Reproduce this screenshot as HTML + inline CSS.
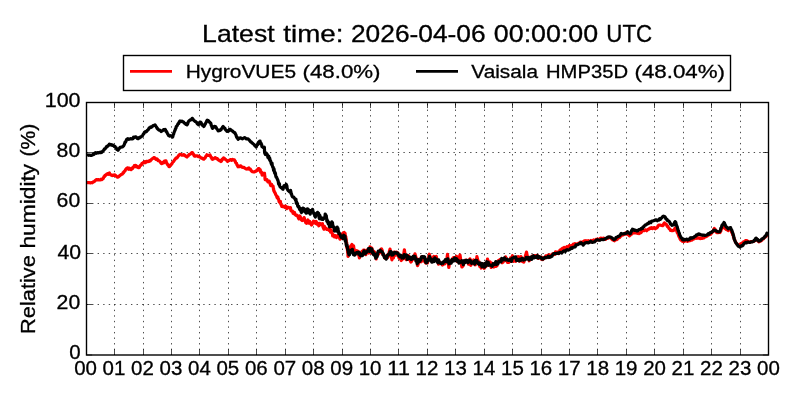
<!DOCTYPE html>
<html lang="en">
<head>
<meta charset="utf-8">
<title>Relative humidity</title>
<style>
html,body{margin:0;padding:0;background:#fff;}
body{width:800px;height:400px;overflow:hidden;font-family:"Liberation Sans",sans-serif;}
svg{display:block;will-change:transform;}
text{font-family:"Liberation Sans",sans-serif;fill:#000;stroke:#000;stroke-width:0.3px;}
.grid line{stroke:#000;stroke-width:0.7;stroke-dasharray:1.39 4.17;}
.tick line{stroke:#000;stroke-width:0.7;}
</style>
</head>
<body>
<svg width="800" height="400" viewBox="0 0 800 400">
<rect x="0" y="0" width="800" height="400" fill="#ffffff"/>
<text font-size="23.2" xml:space="preserve"><tspan x="202.10" y="41.8" textLength="72.49" lengthAdjust="spacingAndGlyphs">Latest</tspan> <tspan x="283.30" y="41.8" textLength="60.09" lengthAdjust="spacingAndGlyphs">time:</tspan> <tspan x="350.98" y="41.8" textLength="134.70" lengthAdjust="spacingAndGlyphs">2026-04-06</tspan> <tspan x="493.84" y="41.8" textLength="104.33" lengthAdjust="spacingAndGlyphs">00:00:00</tspan> <tspan x="606.32" y="41.8" textLength="45.80" lengthAdjust="spacingAndGlyphs">UTC</tspan></text>
<g class="grid">
<line x1="114.50" y1="355.0" x2="114.50" y2="102.5" stroke-dashoffset="0.6"/>
<line x1="143.50" y1="355.0" x2="143.50" y2="102.5" stroke-dashoffset="0.6"/>
<line x1="171.50" y1="355.0" x2="171.50" y2="102.5" stroke-dashoffset="0.6"/>
<line x1="199.50" y1="355.0" x2="199.50" y2="102.5" stroke-dashoffset="0.6"/>
<line x1="228.50" y1="355.0" x2="228.50" y2="102.5" stroke-dashoffset="0.6"/>
<line x1="256.50" y1="355.0" x2="256.50" y2="102.5" stroke-dashoffset="0.6"/>
<line x1="285.50" y1="355.0" x2="285.50" y2="102.5" stroke-dashoffset="0.6"/>
<line x1="313.50" y1="355.0" x2="313.50" y2="102.5" stroke-dashoffset="0.6"/>
<line x1="342.50" y1="355.0" x2="342.50" y2="102.5" stroke-dashoffset="0.6"/>
<line x1="370.50" y1="355.0" x2="370.50" y2="102.5" stroke-dashoffset="0.6"/>
<line x1="398.50" y1="355.0" x2="398.50" y2="102.5" stroke-dashoffset="0.6"/>
<line x1="427.50" y1="355.0" x2="427.50" y2="102.5" stroke-dashoffset="0.6"/>
<line x1="455.50" y1="355.0" x2="455.50" y2="102.5" stroke-dashoffset="0.6"/>
<line x1="484.50" y1="355.0" x2="484.50" y2="102.5" stroke-dashoffset="0.6"/>
<line x1="512.50" y1="355.0" x2="512.50" y2="102.5" stroke-dashoffset="0.6"/>
<line x1="541.50" y1="355.0" x2="541.50" y2="102.5" stroke-dashoffset="0.6"/>
<line x1="569.50" y1="355.0" x2="569.50" y2="102.5" stroke-dashoffset="0.6"/>
<line x1="597.50" y1="355.0" x2="597.50" y2="102.5" stroke-dashoffset="0.6"/>
<line x1="626.50" y1="355.0" x2="626.50" y2="102.5" stroke-dashoffset="0.6"/>
<line x1="654.50" y1="355.0" x2="654.50" y2="102.5" stroke-dashoffset="0.6"/>
<line x1="683.50" y1="355.0" x2="683.50" y2="102.5" stroke-dashoffset="0.6"/>
<line x1="711.50" y1="355.0" x2="711.50" y2="102.5" stroke-dashoffset="0.6"/>
<line x1="740.50" y1="355.0" x2="740.50" y2="102.5" stroke-dashoffset="0.6"/>
<line x1="86.5" y1="304.50" x2="768.5" y2="304.50"/>
<line x1="86.5" y1="253.50" x2="768.5" y2="253.50"/>
<line x1="86.5" y1="203.50" x2="768.5" y2="203.50"/>
<line x1="86.5" y1="152.50" x2="768.5" y2="152.50"/>
</g>
<clipPath id="ax"><rect x="86.5" y="102.5" width="682.0" height="252.5"/></clipPath>
<g clip-path="url(#ax)" fill="none" stroke-width="3.2" stroke-linejoin="round" stroke-linecap="butt">
<path stroke="#ff0000" d="M86.9,182.5 L87.8,182.6 L88.7,182.7 L89.6,182.7 L90.4,182.9 L91.3,182.6 L92.2,182.8 L93.1,182.0 L93.7,181.6 L94.3,181.7 L95.0,180.7 L95.6,180.2 L96.5,179.5 L97.4,179.9 L98.3,179.6 L99.2,179.9 L100.1,179.9 L101.0,179.2 L101.9,179.6 L102.4,178.8 L102.9,178.9 L103.5,178.0 L104.0,176.6 L104.5,176.6 L105.0,175.4 L105.7,175.3 L106.5,174.3 L107.2,173.8 L107.9,174.4 L108.7,173.2 L109.4,173.0 L110.0,174.3 L110.6,174.8 L111.2,174.9 L112.1,175.6 L113.0,175.1 L113.9,175.4 L114.7,174.8 L115.6,175.5 L116.2,176.0 L116.8,176.8 L117.5,177.2 L118.1,177.2 L118.8,176.5 L119.6,175.8 L120.3,175.2 L121.0,174.6 L121.8,174.3 L122.5,174.0 L123.0,172.7 L123.5,172.9 L124.0,171.8 L124.5,171.1 L124.9,171.1 L125.4,170.0 L125.9,169.2 L126.4,168.7 L126.9,168.2 L127.8,167.8 L128.6,169.2 L129.5,168.3 L130.4,169.4 L131.2,169.6 L131.9,168.2 L132.5,168.5 L133.1,167.3 L133.8,167.0 L134.4,165.6 L135.0,165.4 L135.8,165.6 L136.5,166.9 L137.2,166.4 L138.0,167.4 L138.8,167.7 L139.3,167.4 L139.8,166.1 L140.4,165.5 L140.9,165.0 L141.5,164.7 L142.0,163.3 L142.6,163.4 L143.1,162.6 L143.9,162.8 L144.7,161.6 L145.5,162.5 L146.3,161.3 L147.1,161.4 L147.9,161.6 L148.8,161.5 L149.5,160.6 L150.2,160.9 L150.9,160.0 L151.6,159.3 L152.3,158.8 L153.0,158.2 L153.7,157.7 L154.4,157.6 L155.1,158.5 L155.8,159.3 L156.6,158.8 L157.3,159.1 L158.0,160.7 L158.8,160.6 L159.4,161.1 L160.0,161.5 L160.6,162.6 L161.3,163.5 L161.9,163.7 L162.5,163.1 L163.1,162.2 L163.8,162.7 L164.4,161.1 L165.0,161.1 L165.6,160.8 L166.0,160.9 L166.4,162.5 L166.9,163.5 L167.3,163.9 L167.7,164.9 L168.2,164.9 L168.6,166.0 L169.0,166.7 L169.5,166.7 L170.0,165.4 L170.5,165.0 L171.0,165.0 L171.5,164.2 L172.0,163.7 L172.5,162.5 L173.0,161.9 L173.5,161.5 L174.1,160.6 L174.6,159.7 L175.1,159.3 L175.6,158.6 L176.2,157.9 L176.9,158.0 L177.5,157.3 L178.1,156.2 L178.8,155.4 L179.4,154.7 L180.2,154.3 L181.1,154.5 L181.9,155.1 L182.7,155.2 L183.6,154.6 L184.4,154.9 L185.0,155.6 L185.7,156.1 L186.3,156.6 L186.9,157.0 L187.5,156.1 L188.2,155.9 L188.8,154.8 L189.4,154.4 L190.2,154.2 L190.9,153.7 L191.7,152.7 L192.5,152.7 L192.9,153.4 L193.3,154.1 L193.6,154.2 L194.0,155.6 L194.4,156.1 L195.2,156.2 L196.1,155.8 L196.9,155.8 L197.7,156.1 L198.4,156.6 L199.2,156.4 L200.0,157.0 L200.8,157.6 L201.5,158.1 L202.2,158.0 L203.0,159.0 L203.8,159.2 L204.3,158.6 L204.8,158.2 L205.3,157.5 L205.8,156.4 L206.4,155.7 L206.9,154.8 L207.9,155.4 L209.0,155.5 L210.0,155.0 L210.4,156.0 L210.8,156.7 L211.2,157.5 L211.7,157.5 L212.1,159.0 L212.5,159.4 L213.2,159.1 L213.9,158.4 L214.6,158.1 L215.2,157.6 L216.0,158.2 L216.7,158.9 L217.4,158.6 L218.1,159.6 L218.8,160.1 L219.6,160.8 L220.3,160.7 L221.0,161.6 L221.5,161.0 L222.0,159.6 L222.5,159.4 L223.0,158.5 L223.5,157.9 L224.2,158.2 L224.8,159.0 L225.5,159.4 L226.2,160.0 L226.8,160.4 L227.5,161.5 L228.3,160.8 L229.2,160.5 L230.0,159.8 L230.9,159.5 L231.8,160.3 L232.6,159.3 L233.5,159.8 L234.4,159.9 L234.8,160.7 L235.2,161.1 L235.6,162.7 L236.0,162.9 L236.5,163.3 L236.9,164.7 L237.3,164.9 L237.7,166.2 L238.1,166.8 L238.8,166.6 L239.5,166.6 L240.2,165.8 L241.0,166.1 L241.8,167.1 L242.5,167.3 L243.2,167.4 L244.0,167.4 L244.8,168.3 L245.5,168.5 L246.2,169.0 L247.1,169.1 L247.9,168.4 L248.8,168.0 L249.4,169.2 L250.0,168.8 L250.6,169.5 L251.2,170.7 L251.9,171.4 L252.5,171.7 L253.4,171.9 L254.4,172.0 L255.3,171.3 L256.2,171.2 L256.8,170.2 L257.4,169.6 L257.9,170.3 L258.4,168.5 L259.0,168.5 L259.4,169.8 L259.8,169.8 L260.2,169.6 L260.6,172.2 L260.9,171.6 L261.3,172.1 L261.7,172.6 L262.1,175.1 L262.5,174.5 L263.4,173.4 L264.4,173.5 L264.5,173.3 L264.7,175.6 L264.8,175.9 L264.9,176.3 L265.0,178.6 L265.2,179.6 L265.3,179.0 L266.2,180.0 L267.0,179.6 L267.9,181.8 L268.8,181.3 L269.2,181.2 L269.6,182.2 L270.0,183.4 L270.8,185.7 L271.6,184.4 L272.3,185.9 L273.1,186.2 L273.2,187.5 L273.4,188.3 L273.5,189.5 L273.6,188.7 L273.8,190.9 L274.1,190.8 L274.5,192.3 L274.9,192.5 L275.3,193.2 L275.7,194.6 L276.1,195.2 L276.5,195.7 L276.9,197.2 L277.3,197.9 L277.8,197.0 L278.2,198.3 L278.7,199.6 L279.1,201.6 L279.6,202.3 L280.0,202.0 L280.4,201.4 L280.8,204.4 L281.1,204.3 L281.5,205.6 L281.9,206.5 L282.8,206.6 L283.8,206.2 L284.7,207.4 L285.6,206.1 L286.2,206.9 L286.9,208.5 L287.9,207.2 L289.0,207.5 L290.0,208.4 L290.5,207.6 L290.9,210.6 L291.4,211.0 L291.9,211.2 L292.5,211.2 L293.1,213.4 L293.8,213.7 L294.4,212.4 L295.0,214.1 L295.6,215.0 L296.2,215.4 L296.9,215.2 L297.5,215.9 L298.2,217.4 L299.0,218.9 L299.8,216.0 L300.5,217.3 L301.2,219.6 L302.2,220.6 L303.1,220.3 L304.1,217.6 L305.0,220.4 L305.8,222.7 L306.5,223.3 L307.2,222.4 L308.0,219.9 L308.8,223.1 L309.7,221.4 L310.6,223.5 L311.6,225.0 L312.5,223.5 L313.5,221.2 L314.6,221.7 L315.6,223.3 L316.2,221.5 L316.9,224.2 L317.5,224.0 L318.1,223.4 L318.8,225.8 L319.5,223.4 L320.3,223.5 L321.1,224.6 L321.9,224.2 L322.4,223.6 L322.9,226.6 L323.4,228.0 L324.0,229.2 L324.5,226.4 L325.0,228.6 L325.9,228.1 L326.9,229.5 L327.8,229.2 L328.8,230.2 L329.4,229.4 L330.0,228.6 L330.6,232.2 L331.3,230.3 L331.9,232.7 L332.3,233.3 L332.7,235.9 L333.1,235.0 L333.6,236.0 L334.0,235.1 L334.4,237.0 L335.4,235.6 L336.5,237.6 L337.5,236.3 L338.1,235.2 L338.8,236.3 L339.4,237.5 L340.0,239.2 L340.5,236.5 L341.0,238.2 L341.5,237.2 L342.0,233.8 L342.5,235.3 L343.3,232.7 L344.2,232.4 L345.0,233.9 L345.1,233.4 L345.3,237.2 L345.4,236.2 L345.6,236.3 L345.7,239.3 L345.8,236.6 L346.0,240.6 L346.1,238.4 L346.2,240.6 L346.4,244.1 L346.5,243.7 L346.6,242.4 L346.7,242.7 L346.8,247.4 L346.9,246.8 L347.0,248.3 L347.1,246.0 L347.2,249.0 L347.3,248.6 L347.4,248.8 L347.5,250.1 L347.6,252.1 L347.7,251.7 L347.8,252.7 L347.9,252.4 L348.0,256.3 L348.1,255.9 L348.3,256.1 L348.6,253.7 L348.8,254.7 L349.1,252.4 L349.3,251.9 L349.5,251.0 L349.8,250.9 L350.0,248.8 L350.5,246.6 L351.0,245.7 L351.5,245.7 L352.0,244.4 L352.5,246.2 L352.9,246.3 L353.2,248.2 L353.6,245.9 L353.9,248.6 L354.3,251.0 L354.6,250.7 L355.0,250.9 L356.0,252.2 L356.8,250.7 L357.5,254.1 L358.2,251.3 L359.4,257.9 L360.5,253.1 L361.2,255.0 L362.0,251.3 L362.8,252.7 L363.5,250.1 L364.2,250.2 L365.0,252.2 L365.8,254.7 L366.5,250.4 L367.2,250.6 L368.0,252.1 L368.8,253.1 L370.0,246.8 L371.0,252.8 L371.8,248.0 L372.5,253.6 L373.2,251.1 L374.0,251.4 L374.8,252.4 L375.5,254.8 L376.2,259.0 L377.0,253.9 L377.8,254.9 L378.5,254.0 L379.2,251.7 L380.0,252.5 L380.8,249.3 L381.5,249.0 L382.2,250.5 L383.0,255.1 L383.8,255.4 L384.5,255.7 L385.2,258.3 L386.0,257.5 L386.8,255.7 L387.5,257.7 L388.2,256.2 L389.0,252.8 L390.0,249.1 L391.9,259.8 L392.8,253.6 L393.5,257.8 L394.2,252.0 L395.0,253.3 L395.8,255.0 L396.5,252.1 L397.2,254.9 L398.0,252.9 L398.8,257.5 L399.5,258.5 L400.2,257.8 L401.2,260.5 L402.5,259.1 L403.2,258.1 L404.4,249.8 L405.5,258.7 L406.2,259.7 L407.0,257.3 L407.8,258.8 L408.5,255.5 L409.2,259.7 L410.0,259.7 L410.8,262.1 L411.5,261.4 L412.2,258.0 L413.0,258.0 L413.8,259.1 L415.0,253.9 L416.0,257.6 L416.8,259.1 L417.5,265.6 L418.2,264.0 L419.0,259.2 L419.8,259.0 L420.5,259.3 L421.2,261.8 L422.0,256.7 L422.8,258.5 L423.5,258.7 L424.2,261.2 L425.0,261.8 L425.8,263.0 L426.5,259.8 L427.5,262.9 L429.4,254.2 L430.2,257.2 L431.0,257.9 L431.8,258.7 L432.5,259.2 L433.8,256.5 L434.8,258.5 L435.5,256.7 L436.2,256.4 L437.0,259.7 L437.8,261.4 L438.5,264.2 L439.2,263.1 L440.0,262.3 L440.8,263.0 L441.5,263.5 L442.5,265.0 L443.8,263.9 L444.5,264.0 L445.2,263.0 L446.0,260.0 L446.8,259.5 L447.5,254.4 L448.8,267.5 L449.8,261.1 L450.5,261.3 L451.2,260.3 L452.0,260.8 L452.8,258.4 L453.5,257.6 L454.2,258.1 L455.0,257.5 L455.8,258.7 L456.5,256.3 L457.2,261.6 L458.0,261.0 L458.8,259.1 L460.0,255.0 L461.0,261.9 L461.9,267.0 L463.2,265.7 L464.0,262.5 L464.8,262.6 L465.5,260.1 L466.2,260.1 L467.0,261.4 L467.8,260.8 L468.5,264.1 L469.2,260.2 L470.0,258.9 L470.8,265.4 L471.5,263.0 L472.2,260.9 L473.0,263.5 L473.8,260.0 L474.5,262.5 L475.2,264.8 L476.0,263.6 L476.9,256.6 L478.2,261.9 L479.0,261.8 L479.8,266.5 L480.5,265.5 L481.2,268.0 L482.0,264.5 L482.8,264.0 L483.5,267.6 L484.2,268.4 L485.0,267.1 L485.8,266.3 L486.5,265.9 L487.5,259.1 L488.8,264.0 L489.5,263.4 L490.2,261.9 L491.2,267.5 L492.5,263.3 L493.2,265.7 L494.0,267.0 L494.8,263.7 L495.5,266.3 L496.2,266.3 L497.0,265.7 L497.8,261.8 L498.5,260.5 L499.2,260.2 L500.0,259.6 L500.8,259.3 L501.5,261.5 L502.2,262.7 L503.0,262.2 L503.8,259.9 L504.5,260.8 L505.6,256.9 L506.8,260.6 L507.5,262.3 L508.8,262.4 L509.8,260.0 L510.5,258.0 L511.2,261.3 L512.5,255.7 L513.5,261.3 L514.2,257.8 L515.0,257.9 L515.8,261.3 L516.5,260.1 L517.2,256.9 L518.0,256.7 L518.8,256.8 L519.5,261.2 L520.2,260.6 L521.0,256.6 L521.8,260.6 L522.5,261.5 L523.8,262.1 L524.8,258.4 L525.5,255.7 L526.5,252.1 L527.8,258.8 L528.5,258.2 L529.2,260.8 L530.0,257.5 L530.8,258.9 L531.5,258.5 L532.2,256.1 L533.0,256.1 L533.8,256.1 L534.5,255.7 L535.2,256.8 L536.0,255.8 L536.8,256.4 L537.5,255.5 L538.2,258.4 L539.0,256.5 L539.8,256.9 L540.5,257.6 L541.2,259.0 L542.0,257.5 L542.8,259.5 L543.5,258.3 L544.2,258.3 L545.0,258.0 L545.8,256.0 L546.5,257.2 L547.2,256.0 L548.0,255.1 L548.8,257.5 L549.5,254.9 L550.2,255.6 L551.0,256.1 L551.8,255.2 L552.5,254.0 L553.2,254.3 L554.0,254.0 L554.8,254.5 L555.5,251.8 L556.2,253.4 L557.0,252.1 L557.8,252.1 L558.5,253.7 L559.2,252.6 L560.0,250.0 L560.9,249.6 L561.7,249.1 L562.6,248.3 L563.4,249.5 L564.3,247.5 L565.1,248.1 L566.0,248.1 L566.8,246.7 L567.6,247.2 L568.4,247.0 L569.2,245.6 L570.1,245.9 L570.9,246.1 L571.7,245.3 L572.5,245.3 L573.3,244.2 L574.1,244.1 L574.9,243.7 L575.6,244.1 L576.4,244.6 L577.2,243.8 L578.0,243.6 L578.8,243.0 L579.6,243.3 L580.3,242.0 L581.1,242.1 L581.9,242.5 L582.7,242.3 L583.4,241.6 L584.2,240.8 L585.0,241.0 L585.9,240.7 L586.8,240.9 L587.6,241.7 L588.5,240.7 L589.4,241.8 L590.2,241.8 L591.1,240.5 L592.0,241.1 L592.8,241.0 L593.6,240.0 L594.4,240.4 L595.2,240.9 L596.0,239.5 L596.8,240.0 L597.6,239.0 L598.4,239.5 L599.2,239.7 L600.0,238.7 L600.8,238.2 L601.7,238.3 L602.5,239.0 L603.3,238.2 L604.2,238.3 L605.0,238.9 L605.8,239.3 L606.7,238.3 L607.5,238.1 L608.3,238.2 L609.2,237.2 L610.0,237.5 L610.7,237.6 L611.5,238.7 L612.2,239.7 L612.9,238.9 L613.7,240.2 L614.4,240.7 L615.1,239.6 L615.9,239.2 L616.6,239.7 L617.3,239.2 L618.0,237.5 L618.8,237.6 L619.5,237.6 L620.2,236.1 L621.0,236.2 L621.8,234.9 L622.5,234.9 L623.2,234.9 L624.0,234.4 L624.8,234.2 L625.5,232.9 L626.2,233.0 L626.9,234.1 L627.5,234.2 L628.1,234.5 L628.8,235.0 L629.4,235.9 L630.2,235.1 L631.0,233.7 L631.7,234.1 L632.5,233.0 L633.3,233.0 L634.2,232.7 L635.0,233.0 L635.8,232.9 L636.7,232.5 L637.5,233.3 L638.3,232.6 L639.2,233.5 L640.0,232.8 L640.6,232.9 L641.2,232.3 L641.9,231.2 L642.5,230.7 L643.3,230.2 L644.2,230.7 L645.0,230.2 L645.8,229.8 L646.7,230.7 L647.5,229.9 L648.3,229.2 L649.2,229.2 L650.0,228.0 L650.9,228.3 L651.8,227.7 L652.7,228.6 L653.6,227.8 L654.5,227.5 L655.4,228.7 L656.2,227.9 L656.9,227.9 L657.5,227.1 L658.1,225.7 L659.0,225.0 L659.9,225.0 L660.7,225.2 L661.6,225.5 L662.5,225.7 L663.1,225.4 L663.8,223.7 L664.4,222.9 L665.0,223.8 L665.6,223.9 L666.3,224.4 L666.9,225.6 L667.4,226.5 L667.9,226.3 L668.4,227.4 L668.9,228.4 L669.4,228.9 L670.0,229.2 L670.6,230.5 L671.2,230.4 L672.1,230.7 L672.9,230.6 L673.8,230.2 L674.4,229.4 L675.0,228.2 L675.6,227.9 L675.9,229.0 L676.2,229.3 L676.5,230.8 L676.9,230.9 L677.2,232.6 L677.5,233.0 L677.9,233.3 L678.2,234.3 L678.6,235.5 L678.9,236.4 L679.3,237.0 L679.6,237.5 L680.0,238.7 L680.6,239.9 L681.2,239.9 L681.9,241.0 L682.5,240.8 L683.3,241.6 L684.2,241.4 L685.0,240.9 L685.8,240.9 L686.7,240.8 L687.5,241.3 L688.3,240.1 L689.2,240.8 L690.0,240.6 L690.8,239.9 L691.7,240.1 L692.5,239.6 L693.3,238.4 L694.2,238.8 L695.0,238.1 L695.8,238.1 L696.7,238.3 L697.5,237.5 L698.3,238.2 L699.2,237.9 L700.0,238.6 L700.8,237.8 L701.7,238.5 L702.5,238.2 L703.3,237.9 L704.2,237.8 L705.0,236.4 L705.8,236.7 L706.7,236.3 L707.5,235.9 L708.2,235.3 L709.0,234.5 L709.8,234.2 L710.5,234.3 L711.2,233.6 L711.8,232.5 L712.4,232.1 L713.0,231.5 L713.4,230.8 L713.7,229.4 L714.0,229.6 L714.4,228.4 L714.8,229.7 L715.2,229.5 L715.6,231.5 L716.0,231.8 L716.8,232.6 L717.6,232.7 L718.4,232.7 L719.2,231.9 L720.0,232.5 L720.4,231.4 L720.8,231.3 L721.1,229.8 L721.5,229.0 L721.9,228.3 L722.5,227.4 L723.1,227.7 L723.8,226.7 L724.4,227.1 L725.0,228.3 L725.6,228.7 L726.2,229.5 L727.2,229.8 L728.1,230.6 L728.9,229.8 L729.8,229.5 L730.6,229.5 L731.0,229.9 L731.4,231.0 L731.7,232.5 L732.1,232.1 L732.5,233.3 L732.7,234.7 L733.0,234.5 L733.2,235.6 L733.5,237.1 L733.7,237.6 L733.9,237.9 L734.2,238.5 L734.4,239.7 L734.9,240.3 L735.4,241.7 L735.9,242.7 L736.4,243.2 L736.9,243.8 L737.7,244.8 L738.6,245.3 L739.4,245.7 L740.0,245.5 L740.6,243.9 L741.3,243.7 L741.9,243.0 L742.5,242.9 L743.3,242.2 L744.0,241.5 L744.8,241.6 L745.6,240.6 L746.4,240.5 L747.1,240.9 L747.9,241.4 L748.6,241.9 L749.4,242.0 L750.3,241.8 L751.1,241.5 L752.0,241.6 L752.9,241.5 L753.8,241.4 L754.4,241.0 L755.0,239.9 L755.6,239.9 L756.2,239.1 L756.9,239.3 L757.5,240.6 L758.1,240.9 L758.8,241.8 L759.5,241.4 L760.2,241.2 L761.0,240.8 L761.8,240.2 L762.5,239.3 L763.3,238.9 L764.0,238.0 L764.8,237.0 L765.6,237.0 L766.1,236.2 L766.6,235.9 L767.0,234.5 L767.5,234.4 L768.0,233.2"/>
<path stroke="#000000" d="M86.9,155.2 L87.8,154.9 L88.8,155.3 L89.7,155.1 L90.6,155.4 L91.6,155.4 L92.5,155.0 L93.3,154.0 L94.0,154.4 L94.8,153.1 L95.6,152.6 L96.4,153.3 L97.2,152.6 L98.0,153.0 L98.8,152.6 L99.6,152.7 L100.4,152.1 L101.2,152.6 L101.9,152.3 L102.5,151.3 L103.1,150.9 L103.8,150.2 L104.4,148.9 L105.0,148.9 L105.5,148.3 L106.1,147.3 L106.7,146.4 L107.2,146.8 L107.8,145.7 L108.3,145.5 L108.9,145.0 L109.4,144.1 L110.3,144.8 L111.1,144.5 L112.0,145.3 L112.9,145.2 L113.8,145.8 L114.4,146.7 L115.0,146.4 L115.6,147.2 L116.2,147.9 L116.9,149.5 L117.5,149.5 L118.1,150.3 L118.6,149.3 L119.0,148.9 L119.5,148.1 L120.0,147.4 L120.8,147.3 L121.5,147.0 L122.3,147.0 L123.1,146.3 L123.5,146.0 L123.9,145.2 L124.2,144.7 L124.6,143.6 L125.0,142.2 L125.4,142.3 L125.8,141.7 L126.1,140.9 L126.5,139.8 L126.9,139.1 L127.8,138.7 L128.6,139.4 L129.5,139.1 L130.4,138.7 L131.2,138.8 L132.0,139.0 L132.8,138.7 L133.5,137.2 L134.2,137.7 L135.0,136.9 L135.8,136.9 L136.6,137.5 L137.3,138.4 L138.1,138.7 L138.9,137.6 L139.7,137.8 L140.5,136.8 L141.2,137.0 L141.8,136.0 L142.3,135.9 L142.8,135.3 L143.3,134.0 L143.9,133.8 L144.4,132.4 L145.2,131.6 L146.1,131.8 L146.9,131.0 L147.4,130.3 L147.9,129.9 L148.4,129.5 L149.0,128.3 L149.5,127.6 L150.0,127.7 L150.7,126.9 L151.4,127.3 L152.1,126.8 L152.9,125.8 L153.6,125.5 L154.3,125.2 L155.0,124.8 L155.5,125.6 L156.0,126.4 L156.6,127.2 L157.1,128.4 L157.6,128.6 L158.1,129.4 L158.9,130.1 L159.7,130.0 L160.5,130.5 L161.2,131.5 L162.0,130.9 L162.8,130.6 L163.5,129.6 L164.2,129.7 L165.0,129.4 L165.4,129.5 L165.8,130.9 L166.2,131.6 L166.7,131.6 L167.1,133.0 L167.5,133.5 L167.9,134.4 L168.3,134.7 L168.8,135.7 L169.7,136.2 L170.6,135.7 L171.6,136.0 L172.5,137.0 L172.8,136.7 L173.1,135.1 L173.4,134.5 L173.7,133.9 L173.9,132.8 L174.2,132.1 L174.5,131.3 L174.8,130.6 L175.1,130.1 L175.4,129.0 L175.7,128.3 L176.0,128.0 L176.2,126.7 L176.7,126.2 L177.2,125.7 L177.7,124.5 L178.1,123.6 L178.6,123.6 L179.1,122.2 L179.5,121.4 L180.0,121.0 L180.9,121.6 L181.9,121.1 L182.8,121.7 L183.8,122.2 L184.4,123.2 L185.0,123.3 L185.6,124.3 L186.3,124.1 L186.9,124.9 L187.3,124.4 L187.6,124.0 L188.0,122.7 L188.4,121.7 L188.8,121.1 L189.4,120.7 L190.2,119.8 L190.8,120.0 L191.6,119.5 L192.2,118.3 L192.9,118.9 L193.6,120.2 L194.3,120.7 L195.0,121.4 L195.6,121.6 L196.2,122.0 L196.8,122.8 L197.3,123.9 L197.9,123.9 L198.5,124.7 L198.9,123.9 L199.2,123.2 L199.6,122.5 L200.0,122.1 L200.5,122.1 L201.1,122.5 L201.6,124.3 L202.1,124.8 L202.7,125.6 L203.2,125.5 L203.8,126.5 L204.2,126.0 L204.6,124.4 L205.1,124.3 L205.5,123.7 L205.9,122.7 L206.4,121.8 L206.8,120.7 L207.2,120.2 L207.9,120.5 L208.6,120.9 L209.3,122.1 L209.9,122.3 L210.6,123.2 L210.9,123.4 L211.2,125.3 L211.6,125.8 L211.9,126.9 L212.2,127.7 L212.5,128.3 L213.4,127.7 L214.3,126.4 L215.2,126.6 L215.7,126.8 L216.2,127.6 L216.7,128.7 L217.2,129.3 L217.6,129.8 L218.1,130.8 L219.1,130.7 L220.0,130.5 L220.5,129.6 L221.0,129.7 L221.6,128.5 L222.1,128.2 L222.6,127.0 L223.1,126.4 L223.7,127.2 L224.2,128.1 L224.8,128.0 L225.3,129.4 L225.8,130.1 L226.4,130.6 L226.9,131.3 L227.5,131.3 L228.1,131.1 L228.8,130.9 L229.4,129.4 L230.0,129.3 L230.7,129.6 L231.5,130.5 L232.2,130.9 L232.9,131.4 L233.7,132.3 L234.4,132.3 L234.8,132.7 L235.2,133.6 L235.6,134.3 L236.0,135.0 L236.5,136.9 L236.9,137.5 L237.3,137.4 L237.7,138.6 L238.1,139.3 L238.9,138.6 L239.8,138.1 L240.6,137.8 L241.6,138.5 L242.5,138.9 L243.2,138.2 L243.9,138.0 L244.6,137.6 L245.4,138.2 L246.3,138.8 L247.1,138.8 L247.9,138.8 L248.8,139.6 L249.4,140.2 L250.0,141.0 L250.6,141.8 L251.2,141.8 L251.9,142.9 L252.5,143.2 L253.1,143.7 L253.8,144.2 L254.4,145.0 L255.0,145.9 L255.6,146.2 L256.2,147.0 L256.6,146.1 L257.0,145.0 L257.4,144.9 L257.8,144.5 L258.2,142.5 L258.6,142.5 L259.0,141.8 L259.4,142.3 L259.8,141.1 L260.1,141.1 L260.4,143.3 L260.7,143.9 L261.0,143.1 L261.3,144.5 L261.6,144.3 L261.9,146.6 L262.7,147.0 L263.6,147.8 L264.4,147.3 L264.4,148.3 L264.5,149.4 L264.5,149.7 L264.5,149.3 L264.5,151.6 L264.6,150.7 L264.6,152.7 L265.3,154.5 L266.1,153.0 L266.8,153.8 L267.5,155.1 L267.9,157.5 L268.4,156.1 L268.8,156.3 L269.3,159.5 L269.7,158.0 L270.2,160.9 L270.6,160.8 L270.9,162.4 L271.2,163.5 L271.4,163.1 L271.7,164.6 L272.0,163.0 L272.3,166.0 L272.5,166.0 L272.8,167.4 L273.1,167.0 L273.4,169.0 L273.6,170.4 L273.9,168.5 L274.2,170.1 L274.4,171.6 L274.7,173.2 L274.9,172.2 L275.2,172.8 L275.5,173.8 L275.7,175.7 L276.0,176.9 L276.2,176.8 L276.6,177.3 L276.9,178.2 L277.3,178.9 L277.6,179.9 L278.0,180.5 L278.3,181.8 L278.6,183.9 L278.9,183.0 L279.1,184.7 L279.4,183.7 L279.7,186.1 L280.0,186.6 L280.6,187.4 L281.2,187.6 L281.9,188.1 L282.5,188.9 L283.0,189.3 L283.6,186.5 L284.1,185.7 L284.6,187.0 L285.2,186.9 L285.7,185.1 L286.2,184.3 L286.4,185.9 L286.6,185.1 L286.8,186.1 L287.0,186.7 L287.1,188.7 L287.3,188.6 L287.5,189.7 L288.5,190.8 L289.6,191.8 L290.6,190.4 L290.8,192.0 L291.0,192.0 L291.2,194.1 L291.3,194.1 L291.5,193.9 L291.7,194.6 L291.9,195.7 L292.5,196.8 L293.1,197.1 L293.8,197.1 L294.4,198.3 L295.0,198.8 L295.6,200.4 L296.0,199.3 L296.3,203.5 L296.7,202.1 L297.0,203.3 L297.4,203.5 L297.7,206.0 L298.1,206.7 L298.4,206.1 L298.8,206.5 L299.3,208.4 L299.8,209.8 L300.3,208.3 L300.8,210.7 L301.4,212.6 L301.9,210.9 L302.4,208.9 L302.8,208.2 L303.3,209.9 L303.8,208.5 L304.1,211.2 L304.4,211.4 L304.7,209.2 L305.0,209.7 L305.3,210.8 L305.6,212.2 L306.0,213.1 L306.5,213.2 L306.9,212.8 L307.4,208.9 L307.8,210.1 L308.2,209.2 L308.6,210.5 L308.9,212.8 L309.3,210.3 L309.7,212.3 L310.2,214.1 L310.8,210.7 L311.3,210.3 L311.8,210.5 L312.2,211.9 L312.6,209.3 L313.0,211.6 L313.5,212.8 L313.9,213.8 L314.3,213.1 L314.7,215.5 L315.4,217.0 L316.1,213.7 L316.8,213.9 L317.5,212.3 L317.9,212.7 L318.3,215.4 L318.7,213.3 L319.1,217.9 L319.5,218.7 L319.9,215.4 L320.3,219.0 L321.2,217.5 L322.0,219.5 L322.9,219.5 L323.8,217.8 L324.1,218.3 L324.5,217.5 L324.9,217.5 L325.2,214.0 L325.6,214.9 L325.8,217.5 L326.0,216.8 L326.1,216.9 L326.3,215.6 L326.5,218.3 L326.7,218.4 L326.8,221.0 L327.0,221.6 L327.2,221.6 L327.7,220.6 L328.1,223.6 L328.6,224.2 L329.1,222.6 L329.5,226.9 L330.0,225.9 L330.6,223.1 L331.2,226.5 L331.9,221.9 L332.5,222.8 L332.7,225.0 L332.9,225.3 L333.1,225.9 L333.3,227.2 L333.6,227.1 L333.8,227.2 L334.0,227.3 L334.2,227.6 L334.4,231.0 L335.0,231.1 L335.6,229.3 L336.3,229.5 L336.9,227.2 L337.2,227.1 L337.4,228.5 L337.7,231.8 L338.0,228.4 L338.2,231.5 L338.5,231.0 L338.8,233.6 L339.2,233.1 L339.8,233.8 L340.2,234.9 L340.8,236.3 L341.2,237.4 L342.1,236.2 L343.0,238.8 L343.8,235.2 L344.7,236.7 L344.9,236.0 L345.1,236.8 L345.3,240.9 L345.5,241.5 L345.6,239.5 L345.8,240.3 L346.0,242.2 L346.2,244.6 L346.4,245.8 L346.6,245.5 L346.8,246.2 L347.0,244.9 L347.2,246.9 L347.4,246.7 L347.6,249.1 L347.8,250.1 L348.0,249.1 L348.2,250.1 L348.4,253.5 L348.6,250.7 L348.8,254.3 L349.2,254.9 L349.6,254.5 L350.1,251.0 L350.6,251.1 L351.0,250.6 L351.4,250.1 L351.9,249.7 L352.2,250.5 L352.4,249.4 L352.7,252.9 L353.0,251.9 L353.2,253.3 L353.5,254.7 L353.8,253.4 L354.5,255.2 L355.3,254.2 L356.1,252.9 L356.9,252.5 L357.5,252.8 L358.1,252.1 L358.8,254.2 L359.4,252.4 L360.0,255.1 L360.6,255.9 L361.2,254.6 L361.9,254.4 L362.5,255.5 L363.1,253.2 L364.1,250.8 L365.0,253.9 L365.9,253.1 L366.9,251.6 L367.4,251.2 L367.9,250.0 L368.4,248.6 L369.0,250.2 L369.5,251.4 L370.0,248.4 L370.6,251.1 L371.2,250.9 L371.9,248.9 L372.5,253.0 L373.1,252.1 L373.6,254.6 L374.0,254.4 L374.4,255.2 L374.9,254.0 L375.4,256.9 L375.8,258.2 L376.2,257.6 L376.7,255.9 L377.1,256.6 L377.5,254.6 L377.9,252.1 L378.3,251.1 L378.8,251.7 L379.5,250.8 L380.3,250.3 L381.1,251.5 L381.9,251.6 L382.3,252.3 L382.6,252.6 L383.0,254.6 L383.4,253.8 L383.8,255.5 L384.4,257.6 L385.0,256.8 L385.6,257.5 L386.2,259.2 L386.9,257.6 L387.5,255.1 L388.1,254.8 L388.7,254.5 L389.4,254.2 L390.0,251.8 L390.6,251.6 L391.2,251.8 L391.9,255.1 L392.5,252.7 L393.1,254.9 L393.9,252.9 L394.8,252.4 L395.6,252.5 L396.2,253.3 L396.9,252.8 L397.5,252.8 L398.1,253.8 L398.8,255.6 L399.5,256.7 L400.3,255.1 L401.1,255.4 L401.9,258.0 L402.7,257.2 L403.4,258.1 L404.2,254.6 L405.0,256.1 L405.8,256.1 L406.5,254.8 L407.2,259.5 L408.0,256.4 L408.8,257.3 L409.5,258.3 L410.3,257.2 L411.1,259.6 L411.9,259.1 L412.7,257.0 L413.4,256.1 L414.2,258.6 L415.0,256.5 L415.3,259.0 L415.6,258.3 L415.9,261.2 L416.2,259.1 L416.6,259.6 L416.9,260.5 L417.2,263.8 L417.5,263.3 L418.1,261.6 L418.8,259.7 L419.4,261.6 L420.0,260.9 L420.8,260.0 L421.5,256.9 L422.2,256.7 L423.0,256.6 L423.8,257.5 L424.2,256.6 L424.8,257.3 L425.2,260.7 L425.8,262.5 L426.2,260.7 L426.8,262.8 L427.2,259.9 L427.8,260.8 L428.2,260.7 L428.8,258.9 L429.5,256.5 L430.2,258.2 L431.0,260.1 L431.8,262.2 L432.5,259.8 L433.3,259.3 L434.1,261.6 L434.8,257.9 L435.6,259.2 L436.4,259.1 L437.1,261.2 L437.9,262.9 L438.6,259.9 L439.4,262.3 L440.3,263.1 L441.2,263.7 L442.2,262.6 L443.1,263.3 L443.8,261.4 L444.6,261.1 L445.3,259.7 L446.0,261.7 L446.8,259.8 L447.5,259.0 L447.9,258.8 L448.3,262.1 L448.6,262.5 L449.0,263.8 L449.4,263.5 L450.0,263.2 L450.6,261.1 L451.2,263.1 L451.9,259.5 L452.5,261.0 L453.1,261.1 L453.9,261.0 L454.6,258.0 L455.4,258.3 L456.1,260.7 L456.9,259.0 L457.4,261.1 L457.9,261.7 L458.4,260.4 L459.0,263.1 L459.5,262.9 L460.0,262.2 L460.8,261.9 L461.7,260.6 L462.5,262.0 L463.3,264.6 L464.2,260.7 L465.0,262.6 L465.9,260.6 L466.9,260.3 L467.8,262.7 L468.8,261.4 L469.6,260.1 L470.5,260.8 L471.4,263.3 L472.2,263.2 L473.1,262.2 L473.9,261.4 L474.6,264.2 L475.4,260.3 L476.1,261.4 L476.9,260.5 L477.4,262.6 L477.9,262.5 L478.4,264.1 L479.0,263.7 L479.5,262.9 L480.0,264.4 L480.9,263.3 L481.9,266.8 L482.8,263.7 L483.8,264.7 L484.5,267.2 L485.2,263.3 L486.0,265.9 L486.8,261.7 L487.5,263.0 L488.2,262.2 L489.0,265.3 L489.8,264.8 L490.5,265.3 L491.2,265.5 L492.2,266.3 L493.1,263.7 L494.1,264.5 L495.0,263.7 L495.8,261.6 L496.5,264.5 L497.2,263.1 L498.0,263.7 L498.8,261.4 L499.5,261.7 L500.2,261.0 L501.0,261.8 L501.8,258.5 L502.5,259.7 L503.4,259.8 L504.4,257.8 L505.3,259.8 L506.2,259.8 L507.2,259.2 L508.1,260.4 L509.1,260.3 L510.0,259.5 L510.8,259.0 L511.5,261.4 L512.2,258.1 L513.0,258.2 L513.8,257.4 L514.7,257.0 L515.6,256.9 L516.6,260.5 L517.5,259.1 L518.3,260.3 L519.2,260.8 L520.0,259.1 L520.8,260.4 L521.7,258.6 L522.5,258.3 L523.4,260.1 L524.4,259.6 L525.3,259.6 L526.2,257.5 L527.2,258.7 L528.1,257.4 L529.1,259.9 L530.0,258.7 L530.8,257.1 L531.7,259.3 L532.5,256.3 L533.3,255.8 L534.2,257.9 L535.0,256.6 L535.8,257.1 L536.7,257.6 L537.5,255.7 L538.3,258.1 L539.2,256.7 L540.0,257.4 L540.9,257.3 L541.9,258.9 L542.8,259.2 L543.8,258.5 L544.7,257.3 L545.6,257.6 L546.6,257.6 L547.5,257.0 L548.2,256.2 L549.0,257.4 L549.8,256.9 L550.5,257.2 L551.2,256.1 L552.0,256.2 L552.8,254.5 L553.5,253.7 L554.2,253.7 L555.0,253.7 L555.9,253.6 L556.9,253.5 L557.8,253.0 L558.8,253.4 L559.7,252.4 L560.6,252.4 L561.6,253.0 L562.5,252.1 L563.4,251.2 L564.4,250.8 L565.3,251.5 L566.2,250.2 L567.2,249.6 L568.1,250.1 L569.1,249.8 L570.0,249.2 L570.8,248.1 L571.5,247.9 L572.2,248.4 L573.0,247.3 L573.8,247.2 L574.5,247.0 L575.2,247.0 L576.0,244.9 L576.8,244.8 L577.5,244.7 L578.2,244.5 L579.0,244.0 L579.8,243.1 L580.5,243.6 L581.2,242.8 L581.9,243.4 L582.5,243.9 L583.1,245.2 L583.7,244.4 L584.4,243.6 L585.0,242.8 L585.6,242.9 L586.2,242.6 L587.2,242.6 L588.1,242.9 L589.1,242.5 L590.0,241.7 L590.9,241.3 L591.9,242.3 L592.8,242.3 L593.8,241.9 L594.5,242.0 L595.2,241.2 L596.0,240.4 L596.8,239.9 L597.5,239.7 L598.4,240.1 L599.4,240.3 L600.3,240.1 L601.2,239.4 L602.2,239.5 L603.1,239.7 L604.1,239.4 L605.0,238.8 L605.8,238.3 L606.7,238.1 L607.5,237.2 L608.3,236.9 L609.2,237.2 L610.0,236.9 L610.8,237.2 L611.5,237.6 L612.2,238.1 L613.0,238.8 L613.8,239.6 L614.5,238.9 L615.2,239.1 L616.0,237.5 L616.8,237.2 L617.5,237.0 L618.1,236.3 L618.8,236.4 L619.4,235.8 L620.0,235.4 L620.6,234.4 L621.2,233.5 L622.2,233.9 L623.1,233.8 L624.1,233.7 L625.0,233.6 L625.8,233.4 L626.7,233.1 L627.5,231.7 L628.3,232.7 L629.2,233.0 L630.0,233.8 L630.4,233.6 L630.8,232.9 L631.2,231.8 L631.7,230.4 L632.1,230.7 L632.5,229.2 L633.4,229.5 L634.4,230.4 L635.3,230.1 L636.2,230.5 L637.1,231.0 L638.0,230.7 L638.9,229.6 L639.7,229.5 L640.6,229.3 L641.2,228.4 L641.9,228.1 L642.5,228.5 L643.1,226.8 L643.8,226.8 L644.4,225.9 L645.0,225.1 L645.6,225.0 L646.3,224.7 L646.9,223.9 L647.7,223.6 L648.5,223.6 L649.2,222.1 L650.0,222.4 L650.8,222.7 L651.5,221.2 L652.2,221.0 L653.0,221.0 L653.8,220.5 L654.6,220.5 L655.5,219.8 L656.4,219.9 L657.2,220.7 L658.1,219.8 L658.9,220.1 L659.7,218.6 L660.5,219.2 L661.2,218.2 L661.9,217.8 L662.6,216.7 L663.3,216.1 L664.0,216.4 L664.6,216.5 L665.2,217.1 L665.7,218.6 L666.3,219.3 L666.9,219.2 L667.5,220.6 L668.1,220.7 L668.8,221.1 L669.4,221.7 L669.9,222.5 L670.4,224.0 L670.9,223.8 L671.4,224.4 L671.9,225.4 L672.8,224.8 L673.8,224.9 L674.0,224.8 L674.4,222.9 L674.6,222.3 L675.0,222.6 L675.2,221.5 L675.5,222.6 L675.8,222.4 L676.0,223.3 L676.2,224.9 L676.5,225.0 L676.8,226.1 L677.0,226.3 L677.2,226.7 L677.5,228.0 L677.8,229.3 L678.1,230.1 L678.3,230.7 L678.6,231.4 L678.9,232.3 L679.2,233.0 L679.4,234.0 L679.7,235.2 L680.0,235.4 L680.5,236.5 L681.0,237.7 L681.5,238.3 L682.0,238.2 L682.5,239.6 L683.3,240.0 L684.2,239.4 L685.0,239.9 L685.9,239.4 L686.9,239.0 L687.8,240.0 L688.8,239.2 L689.5,239.3 L690.2,238.0 L691.0,237.6 L691.8,238.3 L692.5,237.7 L693.3,237.7 L694.2,236.9 L695.0,236.3 L695.8,236.1 L696.5,234.8 L697.2,235.0 L698.0,234.4 L698.8,233.8 L699.5,234.4 L700.2,234.3 L701.0,234.8 L701.8,235.0 L702.5,235.3 L703.3,235.1 L704.2,235.2 L705.0,235.5 L705.8,235.3 L706.7,235.0 L707.5,234.6 L708.2,233.7 L709.0,234.2 L709.8,233.0 L710.5,232.4 L711.2,232.5 L711.9,232.3 L712.5,231.3 L713.1,231.2 L713.8,230.2 L714.4,230.2 L715.2,230.4 L716.1,230.8 L716.9,231.3 L717.9,231.7 L719.0,231.9 L720.0,231.3 L720.3,230.4 L720.5,229.8 L720.8,228.3 L721.1,227.9 L721.4,227.7 L721.6,226.8 L721.9,225.4 L722.4,225.3 L723.0,223.9 L723.5,223.9 L724.0,222.4 L724.4,222.9 L724.8,224.0 L725.1,225.2 L725.5,225.3 L725.9,226.6 L726.2,227.0 L726.9,227.3 L727.5,227.9 L728.1,228.8 L728.9,228.2 L729.8,227.8 L730.6,227.6 L730.9,228.8 L731.2,229.3 L731.5,229.6 L731.9,230.5 L732.2,231.5 L732.5,232.6 L732.7,232.9 L733.0,233.7 L733.2,234.9 L733.5,235.7 L733.7,236.2 L733.9,237.7 L734.2,239.1 L734.4,239.4 L734.8,240.5 L735.2,241.5 L735.6,242.3 L736.1,243.2 L736.5,243.5 L736.9,244.5 L737.5,244.6 L738.1,246.1 L738.8,246.1 L739.4,246.9 L740.2,247.1 L741.0,246.0 L741.7,245.5 L742.5,245.8 L743.1,245.1 L743.7,243.8 L744.4,243.2 L745.0,242.9 L745.6,242.3 L746.5,242.9 L747.5,242.1 L748.5,242.2 L749.4,242.4 L750.3,242.3 L751.1,241.9 L752.0,241.9 L752.9,241.7 L753.8,241.2 L754.2,240.1 L754.8,240.6 L755.2,239.6 L755.8,238.2 L756.2,238.1 L756.8,239.0 L757.2,240.0 L757.8,239.5 L758.2,240.0 L758.8,241.2 L759.5,240.7 L760.2,240.7 L761.0,240.1 L761.8,239.0 L762.5,238.7 L763.3,238.2 L764.0,238.0 L764.8,236.5 L765.6,236.2 L766.0,235.0 L766.4,235.0 L766.8,233.5 L767.2,233.9 L767.6,232.7 L768.0,231.9"/>
</g>
<g class="tick">
<line x1="86.50" y1="355.0" x2="86.50" y2="349.4"/><line x1="86.50" y1="102.5" x2="86.50" y2="108.1"/>
<line x1="114.50" y1="355.0" x2="114.50" y2="349.4"/><line x1="114.50" y1="102.5" x2="114.50" y2="108.1"/>
<line x1="143.50" y1="355.0" x2="143.50" y2="349.4"/><line x1="143.50" y1="102.5" x2="143.50" y2="108.1"/>
<line x1="171.50" y1="355.0" x2="171.50" y2="349.4"/><line x1="171.50" y1="102.5" x2="171.50" y2="108.1"/>
<line x1="199.50" y1="355.0" x2="199.50" y2="349.4"/><line x1="199.50" y1="102.5" x2="199.50" y2="108.1"/>
<line x1="228.50" y1="355.0" x2="228.50" y2="349.4"/><line x1="228.50" y1="102.5" x2="228.50" y2="108.1"/>
<line x1="256.50" y1="355.0" x2="256.50" y2="349.4"/><line x1="256.50" y1="102.5" x2="256.50" y2="108.1"/>
<line x1="285.50" y1="355.0" x2="285.50" y2="349.4"/><line x1="285.50" y1="102.5" x2="285.50" y2="108.1"/>
<line x1="313.50" y1="355.0" x2="313.50" y2="349.4"/><line x1="313.50" y1="102.5" x2="313.50" y2="108.1"/>
<line x1="342.50" y1="355.0" x2="342.50" y2="349.4"/><line x1="342.50" y1="102.5" x2="342.50" y2="108.1"/>
<line x1="370.50" y1="355.0" x2="370.50" y2="349.4"/><line x1="370.50" y1="102.5" x2="370.50" y2="108.1"/>
<line x1="398.50" y1="355.0" x2="398.50" y2="349.4"/><line x1="398.50" y1="102.5" x2="398.50" y2="108.1"/>
<line x1="427.50" y1="355.0" x2="427.50" y2="349.4"/><line x1="427.50" y1="102.5" x2="427.50" y2="108.1"/>
<line x1="455.50" y1="355.0" x2="455.50" y2="349.4"/><line x1="455.50" y1="102.5" x2="455.50" y2="108.1"/>
<line x1="484.50" y1="355.0" x2="484.50" y2="349.4"/><line x1="484.50" y1="102.5" x2="484.50" y2="108.1"/>
<line x1="512.50" y1="355.0" x2="512.50" y2="349.4"/><line x1="512.50" y1="102.5" x2="512.50" y2="108.1"/>
<line x1="541.50" y1="355.0" x2="541.50" y2="349.4"/><line x1="541.50" y1="102.5" x2="541.50" y2="108.1"/>
<line x1="569.50" y1="355.0" x2="569.50" y2="349.4"/><line x1="569.50" y1="102.5" x2="569.50" y2="108.1"/>
<line x1="597.50" y1="355.0" x2="597.50" y2="349.4"/><line x1="597.50" y1="102.5" x2="597.50" y2="108.1"/>
<line x1="626.50" y1="355.0" x2="626.50" y2="349.4"/><line x1="626.50" y1="102.5" x2="626.50" y2="108.1"/>
<line x1="654.50" y1="355.0" x2="654.50" y2="349.4"/><line x1="654.50" y1="102.5" x2="654.50" y2="108.1"/>
<line x1="683.50" y1="355.0" x2="683.50" y2="349.4"/><line x1="683.50" y1="102.5" x2="683.50" y2="108.1"/>
<line x1="711.50" y1="355.0" x2="711.50" y2="349.4"/><line x1="711.50" y1="102.5" x2="711.50" y2="108.1"/>
<line x1="740.50" y1="355.0" x2="740.50" y2="349.4"/><line x1="740.50" y1="102.5" x2="740.50" y2="108.1"/>
<line x1="768.50" y1="355.0" x2="768.50" y2="349.4"/><line x1="768.50" y1="102.5" x2="768.50" y2="108.1"/>
<line x1="86.5" y1="355.00" x2="92.1" y2="355.00"/><line x1="768.5" y1="355.00" x2="762.9" y2="355.00"/>
<line x1="86.5" y1="304.50" x2="92.1" y2="304.50"/><line x1="768.5" y1="304.50" x2="762.9" y2="304.50"/>
<line x1="86.5" y1="253.50" x2="92.1" y2="253.50"/><line x1="768.5" y1="253.50" x2="762.9" y2="253.50"/>
<line x1="86.5" y1="203.50" x2="92.1" y2="203.50"/><line x1="768.5" y1="203.50" x2="762.9" y2="203.50"/>
<line x1="86.5" y1="152.50" x2="92.1" y2="152.50"/><line x1="768.5" y1="152.50" x2="762.9" y2="152.50"/>
<line x1="86.5" y1="102.50" x2="92.1" y2="102.50"/><line x1="768.5" y1="102.50" x2="762.9" y2="102.50"/>
</g>
<rect x="86.5" y="102.5" width="682.0" height="252.5" fill="none" stroke="#000" stroke-width="1.39"/>
<g font-size="19.6" text-anchor="middle">
<text x="85.6" y="374.5" textLength="22.8" lengthAdjust="spacingAndGlyphs">00</text>
<text x="114.0" y="374.5" textLength="22.8" lengthAdjust="spacingAndGlyphs">01</text>
<text x="142.5" y="374.5" textLength="22.8" lengthAdjust="spacingAndGlyphs">02</text>
<text x="170.9" y="374.5" textLength="22.8" lengthAdjust="spacingAndGlyphs">03</text>
<text x="199.4" y="374.5" textLength="22.8" lengthAdjust="spacingAndGlyphs">04</text>
<text x="227.8" y="374.5" textLength="22.8" lengthAdjust="spacingAndGlyphs">05</text>
<text x="256.3" y="374.5" textLength="22.8" lengthAdjust="spacingAndGlyphs">06</text>
<text x="284.8" y="374.5" textLength="22.8" lengthAdjust="spacingAndGlyphs">07</text>
<text x="313.2" y="374.5" textLength="22.8" lengthAdjust="spacingAndGlyphs">08</text>
<text x="341.7" y="374.5" textLength="22.8" lengthAdjust="spacingAndGlyphs">09</text>
<text x="370.1" y="374.5" textLength="22.8" lengthAdjust="spacingAndGlyphs">10</text>
<text x="398.6" y="374.5" textLength="22.8" lengthAdjust="spacingAndGlyphs">11</text>
<text x="427.0" y="374.5" textLength="22.8" lengthAdjust="spacingAndGlyphs">12</text>
<text x="455.4" y="374.5" textLength="22.8" lengthAdjust="spacingAndGlyphs">13</text>
<text x="483.9" y="374.5" textLength="22.8" lengthAdjust="spacingAndGlyphs">14</text>
<text x="512.4" y="374.5" textLength="22.8" lengthAdjust="spacingAndGlyphs">15</text>
<text x="540.8" y="374.5" textLength="22.8" lengthAdjust="spacingAndGlyphs">16</text>
<text x="569.2" y="374.5" textLength="22.8" lengthAdjust="spacingAndGlyphs">17</text>
<text x="597.7" y="374.5" textLength="22.8" lengthAdjust="spacingAndGlyphs">18</text>
<text x="626.1" y="374.5" textLength="22.8" lengthAdjust="spacingAndGlyphs">19</text>
<text x="654.6" y="374.5" textLength="22.8" lengthAdjust="spacingAndGlyphs">20</text>
<text x="683.0" y="374.5" textLength="22.8" lengthAdjust="spacingAndGlyphs">21</text>
<text x="711.5" y="374.5" textLength="22.8" lengthAdjust="spacingAndGlyphs">22</text>
<text x="740.0" y="374.5" textLength="22.8" lengthAdjust="spacingAndGlyphs">23</text>
<text x="768.4" y="374.5" textLength="22.8" lengthAdjust="spacingAndGlyphs">00</text>
</g>
<g font-size="19.6" text-anchor="end">
<text x="80.6" y="359.0" textLength="11.4" lengthAdjust="spacingAndGlyphs">0</text>
<text x="80.2" y="309.4" textLength="23.6" lengthAdjust="spacingAndGlyphs">20</text>
<text x="81.0" y="258.8" textLength="23.6" lengthAdjust="spacingAndGlyphs">40</text>
<text x="80.2" y="207.4" textLength="23.6" lengthAdjust="spacingAndGlyphs">60</text>
<text x="80.2" y="157.4" textLength="23.6" lengthAdjust="spacingAndGlyphs">80</text>
<text x="80.6" y="106.7" textLength="35.9" lengthAdjust="spacingAndGlyphs">100</text>
</g>
<g transform="translate(34.7,228.5) rotate(-90)"><text font-size="19.8" xml:space="preserve"><tspan x="-105.43" y="0" textLength="78.80" lengthAdjust="spacingAndGlyphs">Relative</tspan> <tspan x="-20.14" y="0" textLength="84.84" lengthAdjust="spacingAndGlyphs">humidity</tspan> <tspan x="71.96" y="0" textLength="32.89" lengthAdjust="spacingAndGlyphs">(%)</tspan></text>
</g>
<rect x="123.5" y="55.5" width="607" height="35" fill="#fff" stroke="#000" stroke-width="1.39"/>
<line x1="130" y1="71.3" x2="172" y2="71.3" stroke="#ff0000" stroke-width="2.8"/>
<text font-size="18.8" xml:space="preserve"><tspan x="185.73" y="77.6" textLength="110.29" lengthAdjust="spacingAndGlyphs">HygroVUE5</tspan> <tspan x="302.52" y="77.6" textLength="77.98" lengthAdjust="spacingAndGlyphs">(48.0%)</tspan></text>
<line x1="416" y1="71.3" x2="458" y2="71.3" stroke="#000000" stroke-width="2.8"/>
<text font-size="18.8" xml:space="preserve"><tspan x="471.32" y="77.6" textLength="66.64" lengthAdjust="spacingAndGlyphs">Vaisala</tspan> <tspan x="545.99" y="77.6" textLength="82.04" lengthAdjust="spacingAndGlyphs">HMP35D</tspan> <tspan x="634.52" y="77.6" textLength="90.53" lengthAdjust="spacingAndGlyphs">(48.04%)</tspan></text>
</svg>
</body>
</html>
